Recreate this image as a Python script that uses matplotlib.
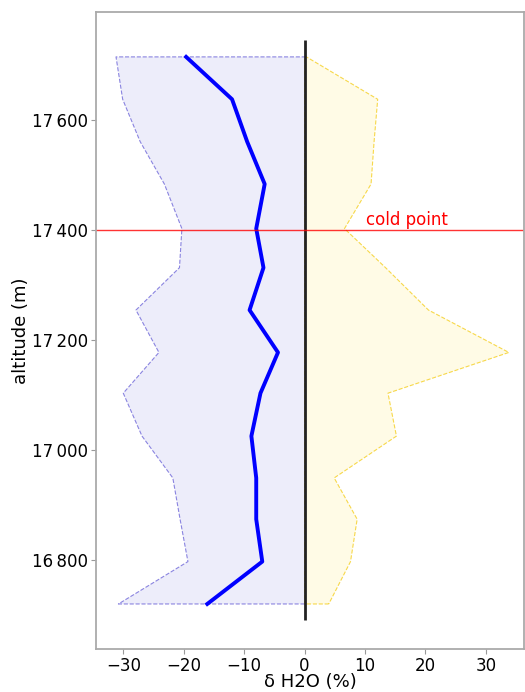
import matplotlib
matplotlib.use("Agg")
import matplotlib.pyplot as plt
from matplotlib.ticker import FuncFormatter

# altitude levels (m)
altitude = [16720, 16797, 16874, 16949, 17025, 17103, 17177,
            17254, 17331, 17402, 17483, 17560, 17637, 17714]
# mean delta H2O (%)
mean_dh2o = [-16.1, -7.0, -8.0, -8.0, -8.8, -7.3, -4.4,
             -9.1, -6.8, -8.0, -6.6, -9.5, -12.0, -19.6]
# lower / upper envelope (%)
low_dh2o = [-30.8, -19.3, -20.6, -21.8, -26.9, -30.0, -24.1,
            -27.9, -20.7, -20.3, -23.2, -27.2, -30.1, -31.2]
high_dh2o = [4.0, 7.6, 8.7, 4.9, 15.2, 13.8, 33.8,
             20.5, 13.4, 6.6, 11.0, 11.5, 12.1, 0.3]
cold_point = 17400

fig = plt.figure(figsize=(5.25, 6.92), dpi=100)
ax = fig.add_axes([0.183, 0.062, 0.815, 0.921])

ax.fill_betweenx(altitude, low_dh2o, 0, facecolor="#ededfa",
                 edgecolor="#8a84e0", linestyle="--", linewidth=0.8)
ax.fill_betweenx(altitude, 0, high_dh2o, facecolor="#fffbe6",
                 edgecolor="#f7d84a", linestyle="--", linewidth=0.8)
ax.plot(mean_dh2o, altitude, color="blue", linewidth=2.8)
ax.vlines(0, min(altitude) - 30, max(altitude) + 30, color="#222222", linewidth=2)
ax.axhline(cold_point, color="red", linewidth=1, alpha=0.8)
ax.text(10.2, cold_point + 8, "cold point", color="red", fontsize=12)

ax.set_xlim(-34.5, 36.3)
ax.set_ylim(16638, 17796)
ax.set_yticks([16800, 17000, 17200, 17400, 17600])
ax.yaxis.set_major_formatter(FuncFormatter(
    lambda v, p: "{:,}".format(int(v)).replace(",", "\u2009")))
ax.set_xlabel("\u03b4 H2O (%)", fontsize=13, labelpad=-1)
ax.set_ylabel("altitude (m)", fontsize=13, labelpad=2)
ax.tick_params(labelsize=12, color="#999999", pad=2)
for s in ax.spines.values():
    s.set_color("#aaaaaa")
    s.set_linewidth(1.3)

fig.savefig("out.png", dpi=100)
